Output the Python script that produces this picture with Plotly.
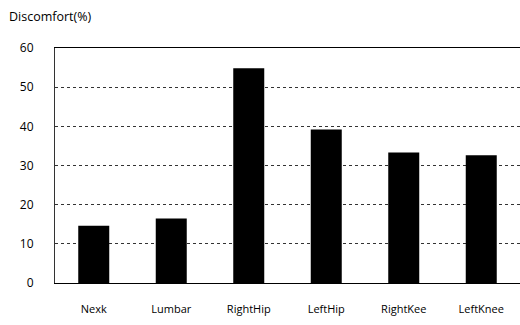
import plotly.graph_objects as go

categories = ["Nexk", "Lumbar", "RightHip", "LeftHip", "RightKee", "LeftKnee"]
discomfort = [14.6, 16.5, 54.8, 39.2, 33.3, 32.6]
y_ticks = [0, 10, 20, 30, 40, 50, 60]

fig = go.Figure(go.Bar(
    x=categories, y=discomfort,
    marker=dict(color="black", line=dict(width=0)),
    width=0.4,
))

fig.update_layout(
    width=520, height=325,
    margin=dict(l=55, r=0, t=48, b=42),
    paper_bgcolor="white", plot_bgcolor="white",
    showlegend=False,
    font=dict(family="Open Sans", color="black", size=12),
    annotations=[dict(
        text="Discomfort(%)", xref="paper", yref="paper",
        x=-48/465, y=1 + 32/235, xanchor="left", yanchor="middle",
        showarrow=False, font=dict(size=12.5, family="Open Sans"),
    )],
)
fig.update_xaxes(
    showline=True, linecolor="black", linewidth=1, mirror=True,
    showgrid=False, ticks="", tickfont=dict(size=11),
    ticklabelstandoff=16,
)
fig.update_yaxes(
    range=[0, 60], tickvals=y_ticks, ticks="",
    showgrid=True, gridcolor="#333333", griddash="dot", gridwidth=1,
    showline=True, linecolor="#333333", linewidth=1,
    zeroline=False, tickfont=dict(size=12), ticklabelstandoff=18,
)

fig.write_html("out.html")
